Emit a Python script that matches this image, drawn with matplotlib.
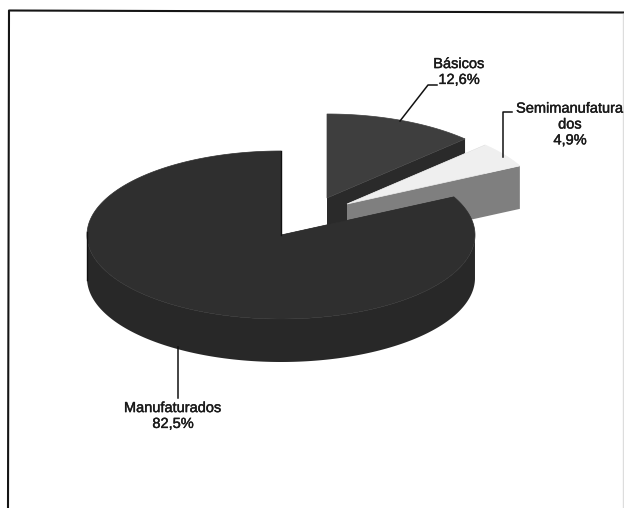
import numpy as np
import matplotlib
matplotlib.use("Agg")
import matplotlib.pyplot as plt
import matplotlib.patheffects as pe
from matplotlib.patches import Polygon

categories = ["Básicos", "Semimanufatura\ndos", "Manufaturados"]
values = [12.6, 4.9, 82.5]
labels = ["12,6%", "4,9%", "82,5%"]

W, H = 624, 508
RX, RY, DEPTH = 194, 84, 43
centers = [(327, 198), (347, 204), (281, 235)]
top_colors = ["#3e3e3e", "#efefef", "#2f2f2f"]
side_colors = ["#2a2a2a", "#7f7f7f", "#282828"]

plt.rcParams["font.family"] = ["Liberation Sans", "DejaVu Sans"]
fig = plt.figure(figsize=(W / 100, H / 100), dpi=100, facecolor="#ffffff")
ax = fig.add_axes([0, 0, 1, 1])
ax.set_xlim(0, W)
ax.set_ylim(H, 0)
ax.axis("off")

# frame of the scanned chart
ax.plot([8, 9, 624], [508, 10.5, 12.5], color="#151515", lw=1.5, zorder=1)
ax.plot([622.5, 622.5], [14, 508], color="#dddddd", lw=1, zorder=1)

def pt(c, deg, dz=0):
    t = np.radians(deg)
    return np.column_stack([c[0] + RX * np.sin(t), c[1] - RY * np.cos(t) + dz])

cum = np.concatenate([[0], np.cumsum(values)]) * 3.6
# Draw back to front: Basicos, Semimanufaturados, Manufaturados
for i in range(3):
    a0, a1 = cum[i], cum[i + 1]
    c = centers[i]
    ang = np.linspace(a0, a1, 300)
    z = 2 + i * 2
    rim = pt(c, ang)
    apex = np.array([c])
    for a in (a0, a1):
        e = pt(c, np.array([a]))[0]
        ax.add_patch(Polygon([c, e, (e[0], e[1] + DEPTH), (c[0], c[1] + DEPTH)],
                             closed=True, fc=side_colors[i], ec="none", zorder=z))
    vis = (ang > 90) & (ang < 270)
    if vis.any():
        r = pt(c, ang[vis])
        wall = np.vstack([r, (r + [0, DEPTH])[::-1]])
        ax.add_patch(Polygon(wall, closed=True, fc=side_colors[i], ec="none", zorder=z))
    ax.add_patch(Polygon(np.vstack([apex, rim]), closed=True, fc=top_colors[i],
                         ec=top_colors[i], lw=0.5, zorder=z + 0.5))

# dark edges visible on the main slice: the 12 o'clock cut and the left silhouette
c = centers[2]
ax.plot([c[0], c[0]], [c[1] - RY, c[1]], color="#111111", lw=1, zorder=7)
e = pt(c, np.array([270.0]))[0]
ax.plot([e[0], e[0]], [e[1] - 3, e[1] + DEPTH + 2], color="#111111", lw=1.0, zorder=7)

txt = dict(ha="center", va="center", fontsize=10.5, color="#1a1a1a", linespacing=1.17, zorder=9,
           path_effects=[pe.withStroke(linewidth=0.3, foreground="#1a1a1a")])
ax.text(459, 72, f"{categories[0]}\n{labels[0]}", **txt)
ax.text(570, 124.5, f"{categories[1]}\n{labels[1]}", **txt)
ax.text(173, 416, f"{categories[2]}\n{labels[2]}", **txt)

lc = dict(color="#111111", lw=1.1, zorder=8)
ax.plot([400, 428, 437], [121, 85, 85], **lc)
ax.plot([503, 503, 512], [157, 112, 112], **lc)
ax.plot([178, 178], [347, 398], **lc)

fig.savefig("out.png", dpi=100, facecolor=fig.get_facecolor())
